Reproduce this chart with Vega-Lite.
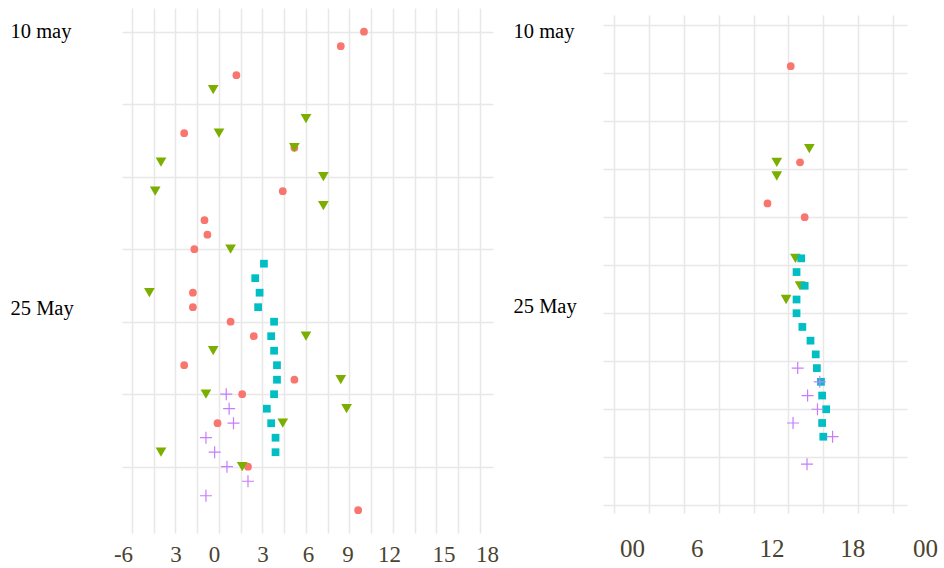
{
  "$schema": "https://vega.github.io/schema/vega-lite/v6.json",
  "padding": {"left": 10, "top": 8, "right": 4, "bottom": 2},
  "background": "white",
  "config": {
    "view": {"stroke": null},
    "axis": {"domain": false, "ticks": false, "tickSize": 0, "gridColor": "#e8e8e8", "gridWidth": 1.5, "labelFont": "Liberation Serif", "title": null, "labelOverlap": false, "labelFlush": false}
  },
  "datasets": {
    "left": [
      {"group": "a", "day": 0, "value": 10.0},
      {"group": "a", "day": 1, "value": 8.4},
      {"group": "a", "day": 3, "value": 1.2},
      {"group": "a", "day": 7, "value": -2.4},
      {"group": "a", "day": 8, "value": 5.2},
      {"group": "a", "day": 11, "value": 4.4},
      {"group": "a", "day": 13, "value": -1.0},
      {"group": "a", "day": 14, "value": -0.8},
      {"group": "a", "day": 15, "value": -1.7},
      {"group": "a", "day": 18, "value": -1.8},
      {"group": "a", "day": 19, "value": -1.8},
      {"group": "a", "day": 20, "value": 0.8},
      {"group": "a", "day": 21, "value": 2.4},
      {"group": "a", "day": 23, "value": -2.4},
      {"group": "a", "day": 24, "value": 5.2},
      {"group": "a", "day": 25, "value": 1.6},
      {"group": "a", "day": 27, "value": -0.1},
      {"group": "a", "day": 30, "value": 2.0},
      {"group": "a", "day": 33, "value": 9.6},
      {"group": "b", "day": 4, "value": -0.4},
      {"group": "b", "day": 6, "value": 6.0},
      {"group": "b", "day": 7, "value": 0.0},
      {"group": "b", "day": 8, "value": 5.2},
      {"group": "b", "day": 9, "value": -4.0},
      {"group": "b", "day": 10, "value": 7.2},
      {"group": "b", "day": 11, "value": -4.4},
      {"group": "b", "day": 12, "value": 7.2},
      {"group": "b", "day": 15, "value": 0.8},
      {"group": "b", "day": 18, "value": -4.8},
      {"group": "b", "day": 21, "value": 6.0},
      {"group": "b", "day": 22, "value": -0.4},
      {"group": "b", "day": 24, "value": 8.4},
      {"group": "b", "day": 25, "value": -0.9},
      {"group": "b", "day": 26, "value": 8.8},
      {"group": "b", "day": 27, "value": 4.4},
      {"group": "b", "day": 29, "value": -4.0},
      {"group": "b", "day": 30, "value": 1.6},
      {"group": "c", "day": 16, "value": 3.1},
      {"group": "c", "day": 17, "value": 2.5},
      {"group": "c", "day": 18, "value": 2.8},
      {"group": "c", "day": 19, "value": 2.7},
      {"group": "c", "day": 20, "value": 3.8},
      {"group": "c", "day": 21, "value": 3.6},
      {"group": "c", "day": 22, "value": 3.8},
      {"group": "c", "day": 23, "value": 4.0},
      {"group": "c", "day": 24, "value": 4.0},
      {"group": "c", "day": 25, "value": 3.8},
      {"group": "c", "day": 26, "value": 3.3},
      {"group": "c", "day": 27, "value": 3.6},
      {"group": "c", "day": 28, "value": 3.9},
      {"group": "c", "day": 29, "value": 3.9},
      {"group": "d", "day": 25, "value": 0.5},
      {"group": "d", "day": 26, "value": 0.7},
      {"group": "d", "day": 27, "value": 1.0},
      {"group": "d", "day": 28, "value": -0.9},
      {"group": "d", "day": 29, "value": -0.3},
      {"group": "d", "day": 30, "value": 0.55},
      {"group": "d", "day": 31, "value": 2.0},
      {"group": "d", "day": 32, "value": -0.9}
    ],
    "right": [
      {"group": "a", "day": 2, "value": 15.2},
      {"group": "a", "day": 9, "value": 16.0},
      {"group": "a", "day": 12, "value": 13.2},
      {"group": "a", "day": 13, "value": 16.4},
      {"group": "b", "day": 8, "value": 16.8},
      {"group": "b", "day": 9, "value": 14.0},
      {"group": "b", "day": 10, "value": 14.0},
      {"group": "b", "day": 16, "value": 15.6},
      {"group": "b", "day": 18, "value": 16.0},
      {"group": "b", "day": 19, "value": 14.8},
      {"group": "c", "day": 16, "value": 16.1},
      {"group": "c", "day": 17, "value": 15.7},
      {"group": "c", "day": 18, "value": 16.4},
      {"group": "c", "day": 19, "value": 15.7},
      {"group": "c", "day": 20, "value": 15.7},
      {"group": "c", "day": 21, "value": 16.2},
      {"group": "c", "day": 22, "value": 16.9},
      {"group": "c", "day": 23, "value": 17.35},
      {"group": "c", "day": 24, "value": 17.45},
      {"group": "c", "day": 25, "value": 17.8},
      {"group": "c", "day": 26, "value": 17.9},
      {"group": "c", "day": 27, "value": 18.25},
      {"group": "c", "day": 28, "value": 17.9},
      {"group": "c", "day": 29, "value": 18.0},
      {"group": "d", "day": 24, "value": 15.8},
      {"group": "d", "day": 25, "value": 17.7},
      {"group": "d", "day": 26, "value": 16.65},
      {"group": "d", "day": 27, "value": 17.5},
      {"group": "d", "day": 28, "value": 15.4},
      {"group": "d", "day": 29, "value": 18.8},
      {"group": "d", "day": 31, "value": 16.6}
    ],
    "empty": []
  },
  "bounds": "flush",
  "spacing": 110,
  "hconcat": [
    {
      "width": 371,
      "height": 525,
      "data": {"name": "left"},
      "encoding": {
        "x": {"field": "value", "type": "quantitative",
          "scale": {"domain": [-6.69, 18.9], "nice": false, "zero": false},
          "axis": {
            "values": [-6, -4.5, -3, -1.5, 0, 1.5, 3, 4.5, 6, 7.5, 9, 10.5, 12, 13.5, 15, 16.5, 18],
            "labelExpr": "datum.value % 3 != 0 ? '' : datum.value == -3 ? '3' : datum.value < 0 ? '-' + abs(datum.value) : '' + datum.value",
            "labelFontSize": 23, "labelColor": "#4a4330", "labelPadding": 21, "labelBaseline": "middle",
            "labelOffset": {"condition": [
              {"test": "datum.value == -6", "value": -9},
              {"test": "datum.value == 0", "value": -5},
              {"test": "datum.value == 6", "value": 2},
              {"test": "datum.value == 9", "value": -2},
              {"test": "datum.value == 12", "value": -4},
              {"test": "datum.value == 15", "value": 7},
              {"test": "datum.value == 18", "value": 7}
            ], "value": 0}
          }},
        "y": {"field": "day", "type": "quantitative",
          "scale": {"domain": [-1.63, 34.57], "reverse": true, "nice": false, "zero": false},
          "axis": {
            "values": [0, 5, 10, 15, 19.06, 20, 25, 30],
            "labelExpr": "datum.value == 0 ? '10 may' : datum.value == 19.06 ? '25 May' : ''",
            "labelAlign": "left", "labelBaseline": "middle", "labelPadding": 112,
            "labelFontSize": 20.5, "labelColor": "#000000",
            "gridOpacity": {"condition": {"test": "datum.value == 19.06", "value": 0}, "value": 1}
          }},
        "color": {"field": "group", "type": "nominal", "scale": {"domain": ["a", "b", "c", "d"], "range": ["#F8766D", "#7CAE00", "#00BFC4", "#C77CFF"]}, "legend": null}
      },
      "layer": [
        {"transform": [{"filter": "datum.group == 'a'"}], "mark": {"type": "point", "shape": "circle", "filled": true, "opacity": 1, "size": 60}},
        {"transform": [{"filter": "datum.group == 'b'"}], "mark": {"type": "point", "shape": "triangle-down", "filled": true, "opacity": 1, "size": 115}},
        {"transform": [{"filter": "datum.group == 'c'"}], "mark": {"type": "point", "shape": "square", "filled": true, "opacity": 1, "size": 60}},
        {"transform": [{"filter": "datum.group == 'd'"}], "mark": {"type": "point", "filled": false, "shape": "M-1,0L1,0M0,-1L0,1", "size": 144, "strokeWidth": 1.2, "opacity": 1}}
      ]
    },
    {
      "bounds": "flush",
      "spacing": 6,
      "vconcat": [
        {
          "width": 304,
          "height": 1,
          "data": {"name": "empty"},
          "mark": {"type": "point"},
          "encoding": {}
        },
        {
          "width": 304,
          "height": 498,
          "data": {"name": "right"},
          "encoding": {
            "x": {"field": "value", "type": "quantitative",
              "scale": {"domain": [-0.946, 25.2], "nice": false, "zero": false},
              "axis": {
                "values": [0, 3, 6, 9, 12, 15, 18, 21, 24],
                "labelExpr": "datum.value == 0 || datum.value == 24 ? '00' : datum.value % 6 == 0 ? '' + datum.value : ''",
                "labelFontSize": 25, "labelColor": "#4a4330", "labelPadding": 35, "labelBaseline": "middle",
                "labelOffset": {"condition": [
                  {"test": "datum.value == 0", "value": 18},
                  {"test": "datum.value == 6", "value": 13},
                  {"test": "datum.value == 12", "value": 18},
                  {"test": "datum.value == 18", "value": 29},
                  {"test": "datum.value == 24", "value": 32}
                ], "value": 0}
              }},
            "y": {"field": "day", "type": "quantitative",
              "scale": {"domain": [-1.735, 34.56], "reverse": true, "nice": false, "zero": false},
              "axis": {
                "values": [-1, -0.5, 2.5, 6, 9.5, 13, 16.5, 19.5, 20, 23.5, 27, 30.5, 34],
                "labelExpr": "datum.value == -0.5 ? '10 may' : datum.value == 19.5 ? '25 May' : ''",
                "labelAlign": "left", "labelBaseline": "middle", "labelPadding": 90,
                "labelFontSize": 20.5, "labelColor": "#000000",
                "gridOpacity": {"condition": {"test": "datum.value == -0.5 || datum.value == 19.5", "value": 0}, "value": 1}
              }},
            "color": {"field": "group", "type": "nominal", "scale": {"domain": ["a", "b", "c", "d"], "range": ["#F8766D", "#7CAE00", "#00BFC4", "#C77CFF"]}, "legend": null}
          },
          "layer": [
            {"transform": [{"filter": "datum.group == 'a'"}], "mark": {"type": "point", "shape": "circle", "filled": true, "opacity": 1, "size": 60}},
            {"transform": [{"filter": "datum.group == 'b'"}], "mark": {"type": "point", "shape": "triangle-down", "filled": true, "opacity": 1, "size": 115}},
            {"transform": [{"filter": "datum.group == 'c'"}], "mark": {"type": "point", "shape": "square", "filled": true, "opacity": 1, "size": 60}},
            {"transform": [{"filter": "datum.group == 'd'"}], "mark": {"type": "point", "filled": false, "shape": "M-1,0L1,0M0,-1L0,1", "size": 144, "strokeWidth": 1.2, "opacity": 1}}
          ]
        }
      ]
    }
  ]
}
